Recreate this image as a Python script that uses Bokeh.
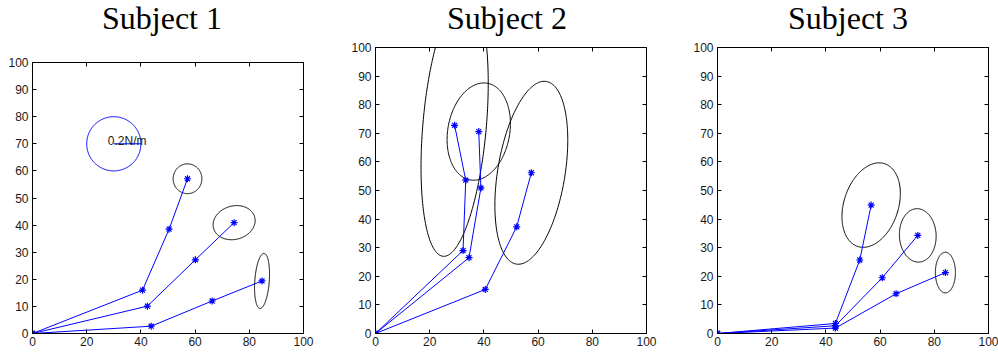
import numpy as np
from bokeh.plotting import figure
from bokeh.layouts import row, column
from bokeh.models import Range1d, LinearAxis, FixedTicker, Div
from bokeh.core.properties import value
from bokeh.embed import file_html
from bokeh.resources import INLINE

titles = ["Subject 1", "Subject 2", "Subject 3"]
x_ticks = [0, 20, 40, 60, 80, 100]
y_ticks = [0, 10, 20, 30, 40, 50, 60, 70, 80, 90, 100]

# Subject 1: three chains (origin -> via -> via -> end)
s1_x = [[0, 40.6, 50.4, 57.2], [0, 42.4, 60.1, 74.4], [0, 43.8, 66.3, 84.7]]
s1_y = [[0, 16.0, 38.5, 57.1], [0, 10.1, 27.2, 40.9], [0, 2.7, 12.0, 19.4]]
# Subject 2
s2_x = [[0, 32.3, 33.3, 29.2], [0, 34.5, 38.9, 38.1], [0, 40.5, 52.1, 57.5]]
s2_y = [[0, 29.0, 53.6, 72.8], [0, 26.5, 50.9, 70.6], [0, 15.4, 37.3, 56.2]]
# Subject 3
s3_x = [[0, 43.5, 52.5, 56.7], [0, 43.5, 60.8, 73.9], [0, 43.5, 65.9, 84.1]]
s3_y = [[0, 3.5, 25.7, 44.9], [0, 2.7, 19.5, 34.3], [0, 1.9, 13.9, 21.3]]

# Stiffness ellipses: centre x, centre y, semi-axis a, semi-axis b, tilt of a from vertical (deg)
s1_ell_cx = [57.2, 74.4, 84.7]
s1_ell_cy = [57.1, 40.9, 19.4]
s1_ell_a = [5.5, 7.86, 10.18]
s1_ell_b = [5.3, 6.16, 2.67]
s1_ell_phi = [0.0, 74.4, 4.2]

s2_ell_cx = [29.2, 38.1, 57.5]
s2_ell_cy = [72.8, 70.6, 56.2]
s2_ell_a = [46.0, 17.2, 32.4]
s2_ell_b = [11.7, 11.4, 12.4]
s2_ell_phi = [5.3, 11.5, 10.0]

s3_ell_cx = [56.7, 73.9, 84.1]
s3_ell_cy = [44.9, 34.3, 21.3]
s3_ell_a = [15.3, 9.35, 7.1]
s3_ell_b = [10.0, 6.77, 3.7]
s3_ell_phi = [20.2, -3.0, 0.0]

# scale circle (subject 1)
scale_cx = [30.0]
scale_cy = [70.0]
scale_r = [10.0]
scale_label = ["0.2N/m"]
scale_label_x = [27.8]
scale_label_y = [71.2]

BLUE = "#0000ff"
TITLE_H = 36


def ellipse_pts(cx, cy, a, b, phi_deg, n=240):
    t = np.linspace(0, 2 * np.pi, n)
    ph = np.deg2rad(phi_deg)
    xs = cx + a * np.cos(t) * np.sin(ph) + b * np.sin(t) * np.cos(ph)
    ys = cy + a * np.cos(t) * np.cos(ph) - b * np.sin(t) * np.sin(ph)
    return list(xs), list(ys)


def make_title(title, width, pad_left, pad_right):
    return Div(text=title, width=width, height=TITLE_H,
               styles={"font-family": "'Liberation Serif', serif", "font-size": "32px",
                       "line-height": "36px", "text-align": "center", "color": "black",
                       "padding-left": f"{pad_left}px", "padding-right": f"{pad_right}px",
                       "box-sizing": "border-box", "margin": "0", "overflow": "visible",
                       "white-space": "nowrap"})


def make_panel(cx_list, cy_list, ell, width, height, bl, br, bt, bb):
    p = figure(width=width, height=height, output_backend="svg", toolbar_location=None,
               title=None,
               x_range=Range1d(0, 100), y_range=Range1d(0, 100),
               min_border_left=bl, min_border_right=br, min_border_top=bt, min_border_bottom=bb,
               x_axis_location=None, y_axis_location=None)
    p.xgrid.visible = False
    p.ygrid.visible = False
    p.outline_line_color = "black"
    p.outline_line_width = 1
    p.background_fill_color = "white"
    p.border_fill_color = "white"

    for loc, ticks, lab in [("below", x_ticks, True), ("left", y_ticks, True),
                            ("above", x_ticks, False), ("right", y_ticks, False)]:
        ax = LinearAxis(ticker=FixedTicker(ticks=ticks))
        ax.axis_line_color = "black"
        ax.major_tick_line_color = "black"
        ax.major_tick_in = 4
        ax.major_tick_out = 0
        ax.minor_tick_line_color = None
        if lab:
            ax.major_label_text_font = "Liberation Sans"
            ax.major_label_text_font_size = "12px"
            ax.major_label_text_color = "#1a1a1a"
            ax.major_label_standoff = 3 if loc == "below" else 4
        else:
            ax.major_label_text_font_size = "0px"
            ax.major_label_text_color = None
            ax.major_label_standoff = 0
        p.add_layout(ax, loc)

    ecx, ecy, ea, eb, ephi = ell
    for i in range(len(ecx)):
        xs, ys = ellipse_pts(ecx[i], ecy[i], ea[i], eb[i], ephi[i])
        p.line(xs, ys, line_color="black", line_width=1)

    for xs, ys in zip(cx_list, cy_list):
        p.line(xs, ys, line_color=BLUE, line_width=1)
        p.scatter(xs, ys, marker="asterisk", size=7, line_color=BLUE, line_width=1.2)
    return p


H = 356 - TITLE_H
p1 = make_panel(s1_x, s1_y, (s1_ell_cx, s1_ell_cy, s1_ell_a, s1_ell_b, s1_ell_phi),
                340, H, 32, 37, 62 - TITLE_H, 23)
# scale circle with a radius line and its label
cxs, cys = ellipse_pts(scale_cx[0], scale_cy[0], scale_r[0], scale_r[0], 0.0)
p1.line(cxs, cys, line_color=BLUE, line_width=1)
p1.line([scale_cx[0], scale_cx[0] + scale_r[0]], [scale_cy[0], scale_cy[0]], line_color=BLUE, line_width=1)
p1.text(x=scale_label_x, y=scale_label_y, text=scale_label, text_font=value("Liberation Sans"),
        text_font_size=value("12px"), text_color="#1a1a1a", text_baseline="alphabetic", text_align="left")

p2 = make_panel(s2_x, s2_y, (s2_ell_cx, s2_ell_cy, s2_ell_a, s2_ell_b, s2_ell_phi),
                340, H, 35, 34, 47 - TITLE_H, 23)
p3 = make_panel(s3_x, s3_y, (s3_ell_cx, s3_ell_cy, s3_ell_a, s3_ell_b, s3_ell_phi),
                318, H, 37, 10, 47 - TITLE_H, 23)

t1 = make_title(titles[0], 340, 0, 16)
t2 = make_title(titles[1], 340, 0, 6)
t3 = make_title(titles[2], 318, 18, 0)

layout = row(column(t1, p1), column(t2, p2), column(t3, p3))
open("out.html", "w").write(file_html(layout, INLINE))
